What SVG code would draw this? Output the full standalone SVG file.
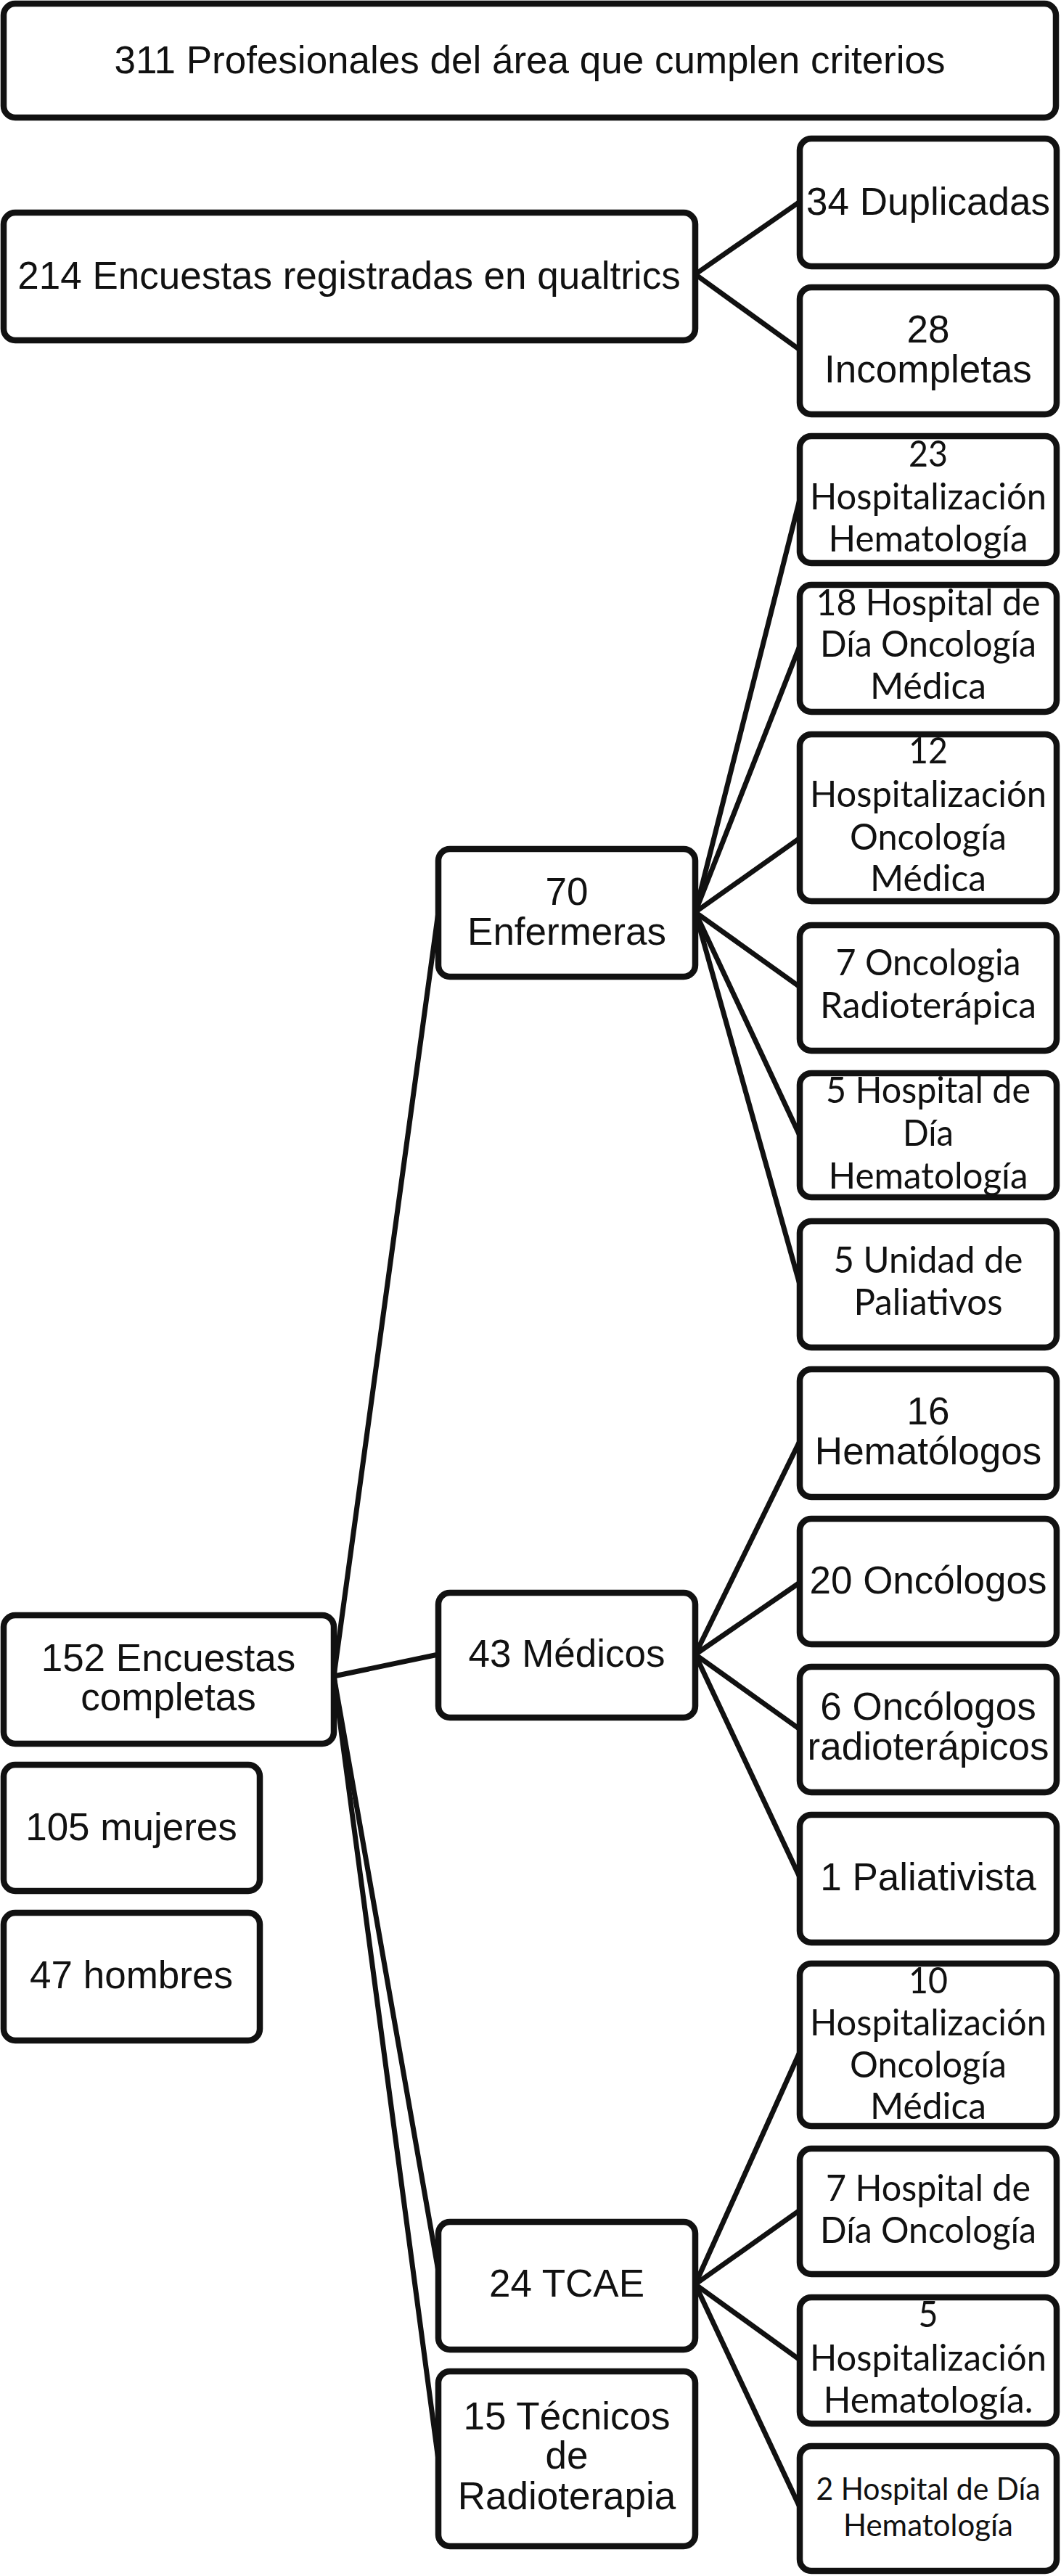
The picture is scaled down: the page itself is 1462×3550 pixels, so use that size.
<svg xmlns="http://www.w3.org/2000/svg" width="1462" height="3550" viewBox="0 0 1462 3550">
<style>
.box{fill:#fff;stroke:#111;stroke-width:8.5}
.edge{stroke:#111;stroke-width:7;fill:none;stroke-linecap:round}
.a{font-family:"Liberation Sans",Arial,sans-serif;font-size:53px;fill:#111;text-anchor:middle}
.c{font-family:Lato,"Noto Sans",sans-serif;font-size:50px;fill:#111;text-anchor:middle}
.s{font-family:Lato,"Noto Sans",sans-serif;font-size:43px;fill:#111;text-anchor:middle}
</style>
<rect width="1462" height="3550" fill="#fff"/>
<g id="connectors">
<line class="edge" x1="958" y1="378" x2="1102" y2="278"/>
<line class="edge" x1="958" y1="378" x2="1102" y2="482"/>
<line class="edge" x1="958" y1="1257" x2="1102" y2="688"/>
<line class="edge" x1="958" y1="1257" x2="1102" y2="890"/>
<line class="edge" x1="958" y1="1257" x2="1102" y2="1155"/>
<line class="edge" x1="958" y1="1257" x2="1102" y2="1360"/>
<line class="edge" x1="958" y1="1257" x2="1102" y2="1565"/>
<line class="edge" x1="958" y1="1257" x2="1102" y2="1770"/>
<line class="edge" x1="958" y1="2280" x2="1102" y2="1986"/>
<line class="edge" x1="958" y1="2280" x2="1102" y2="2181"/>
<line class="edge" x1="958" y1="2280" x2="1102" y2="2383"/>
<line class="edge" x1="958" y1="2280" x2="1102" y2="2587"/>
<line class="edge" x1="958" y1="3148" x2="1102" y2="2828"/>
<line class="edge" x1="958" y1="3148" x2="1102" y2="3046"/>
<line class="edge" x1="958" y1="3148" x2="1102" y2="3252"/>
<line class="edge" x1="958" y1="3148" x2="1102" y2="3455"/>
<line class="edge" x1="460" y1="2310" x2="604" y2="1257"/>
<line class="edge" x1="460" y1="2310" x2="604" y2="2280"/>
<line class="edge" x1="460" y1="2310" x2="604" y2="3130"/>
<line class="edge" x1="460" y1="2310" x2="604" y2="3390"/>
</g>
<g id="n-total"><rect class="box" x="5" y="5" width="1450" height="157" rx="16"/><text class="a" x="730" y="101">311 Profesionales del área que cumplen criterios</text></g>
<g id="n-registradas"><rect class="box" x="5" y="293" width="953" height="176" rx="16"/><text class="a" x="481" y="398">214 Encuestas registradas en qualtrics</text></g>
<g id="n-duplicadas"><rect class="box" x="1102" y="191" width="354" height="176" rx="16"/><text class="a" x="1279" y="296">34 Duplicadas</text></g>
<g id="n-incompletas"><rect class="box" x="1102" y="396" width="354" height="175" rx="16"/><text class="a" x="1279" y="472">28</text><text class="a" x="1279" y="527">Incompletas</text></g>
<g id="n-enf-hh"><rect class="box" x="1102" y="601" width="354" height="175" rx="16"/><text class="c" x="1279" y="643" textLength="54" lengthAdjust="spacingAndGlyphs">23</text><text class="c" x="1279" y="702" textLength="326" lengthAdjust="spacingAndGlyphs">Hospitalización</text><text class="c" x="1279" y="760" textLength="275" lengthAdjust="spacingAndGlyphs">Hematología</text></g>
<g id="n-enf-hdo"><rect class="box" x="1102" y="806" width="354" height="175" rx="16"/><text class="c" x="1279" y="848" textLength="309" lengthAdjust="spacingAndGlyphs">18 Hospital de</text><text class="c" x="1279" y="905" textLength="298" lengthAdjust="spacingAndGlyphs">Día Oncología</text><text class="c" x="1279" y="963" textLength="160" lengthAdjust="spacingAndGlyphs">Médica</text></g>
<g id="n-enf-hom"><rect class="box" x="1102" y="1012" width="354" height="230" rx="16"/><text class="c" x="1279" y="1052" textLength="54" lengthAdjust="spacingAndGlyphs">12</text><text class="c" x="1279" y="1112" textLength="326" lengthAdjust="spacingAndGlyphs">Hospitalización</text><text class="c" x="1279" y="1171" textLength="216" lengthAdjust="spacingAndGlyphs">Oncología</text><text class="c" x="1279" y="1228" textLength="160" lengthAdjust="spacingAndGlyphs">Médica</text></g>
<g id="n-enf-or"><rect class="box" x="1102" y="1275" width="354" height="173" rx="16"/><text class="c" x="1279" y="1344" textLength="255" lengthAdjust="spacingAndGlyphs">7 Oncologia</text><text class="c" x="1279" y="1403" textLength="298" lengthAdjust="spacingAndGlyphs">Radioterápica</text></g>
<g id="n-enf-hdh"><rect class="box" x="1102" y="1479" width="354" height="171" rx="16"/><text class="c" x="1279" y="1520" textLength="282" lengthAdjust="spacingAndGlyphs">5 Hospital de</text><text class="c" x="1279" y="1579" textLength="70" lengthAdjust="spacingAndGlyphs">Día</text><text class="c" x="1279" y="1638" textLength="275" lengthAdjust="spacingAndGlyphs">Hematología</text></g>
<g id="n-enf-up"><rect class="box" x="1102" y="1683" width="354" height="174" rx="16"/><text class="c" x="1279" y="1754" textLength="261" lengthAdjust="spacingAndGlyphs">5 Unidad de</text><text class="c" x="1279" y="1812" textLength="205" lengthAdjust="spacingAndGlyphs">Paliativos</text></g>
<g id="n-med-hem"><rect class="box" x="1102" y="1887" width="354" height="176" rx="16"/><text class="a" x="1279" y="1963">16</text><text class="a" x="1279" y="2018">Hematólogos</text></g>
<g id="n-med-onc"><rect class="box" x="1102" y="2093" width="354" height="173" rx="16"/><text class="a" x="1279" y="2196">20 Oncólogos</text></g>
<g id="n-med-rad"><rect class="box" x="1102" y="2297" width="354" height="173" rx="16"/><text class="a" x="1279" y="2370">6 Oncólogos</text><text class="a" x="1279" y="2425">radioterápicos</text></g>
<g id="n-med-pal"><rect class="box" x="1102" y="2501" width="354" height="176" rx="16"/><text class="a" x="1279" y="2605">1 Paliativista</text></g>
<g id="n-tcae-hom"><rect class="box" x="1102" y="2706" width="354" height="224" rx="16"/><text class="c" x="1279" y="2747" textLength="54" lengthAdjust="spacingAndGlyphs">10</text><text class="c" x="1279" y="2805" textLength="326" lengthAdjust="spacingAndGlyphs">Hospitalización</text><text class="c" x="1279" y="2863" textLength="216" lengthAdjust="spacingAndGlyphs">Oncología</text><text class="c" x="1279" y="2920" textLength="160" lengthAdjust="spacingAndGlyphs">Médica</text></g>
<g id="n-tcae-hdo"><rect class="box" x="1102" y="2961" width="354" height="173" rx="16"/><text class="c" x="1279" y="3033" textLength="282" lengthAdjust="spacingAndGlyphs">7 Hospital de</text><text class="c" x="1279" y="3091" textLength="298" lengthAdjust="spacingAndGlyphs">Día Oncología</text></g>
<g id="n-tcae-hh"><rect class="box" x="1102" y="3166" width="354" height="174" rx="16"/><text class="c" x="1279" y="3207" textLength="27" lengthAdjust="spacingAndGlyphs">5</text><text class="c" x="1279" y="3267" textLength="326" lengthAdjust="spacingAndGlyphs">Hospitalización</text><text class="c" x="1279" y="3325" textLength="289" lengthAdjust="spacingAndGlyphs">Hematología.</text></g>
<g id="n-tcae-hdh"><rect class="box" x="1102" y="3371" width="354" height="172" rx="16"/><text class="s" x="1279" y="3445" textLength="309" lengthAdjust="spacingAndGlyphs">2 Hospital de Día</text><text class="s" x="1279" y="3495" textLength="234" lengthAdjust="spacingAndGlyphs">Hematología</text></g>
<g id="n-enfermeras"><rect class="box" x="604" y="1170" width="354" height="176" rx="16"/><text class="a" x="781" y="1247">70</text><text class="a" x="781" y="1302">Enfermeras</text></g>
<g id="n-medicos"><rect class="box" x="604" y="2195" width="354" height="172" rx="16"/><text class="a" x="781" y="2297">43 Médicos</text></g>
<g id="n-tcae"><rect class="box" x="604" y="3062" width="354" height="176" rx="16"/><text class="a" x="781" y="3165">24 TCAE</text></g>
<g id="n-tecnicos"><rect class="box" x="604" y="3268" width="354" height="241" rx="16"/><text class="a" x="781" y="3348">15 Técnicos</text><text class="a" x="781" y="3402">de</text><text class="a" x="781" y="3458">Radioterapia</text></g>
<g id="n-completas"><rect class="box" x="5" y="2226" width="455" height="177" rx="16"/><text class="a" x="232" y="2303">152 Encuestas</text><text class="a" x="232" y="2357">completas</text></g>
<g id="n-mujeres"><rect class="box" x="5" y="2432" width="353" height="174" rx="16"/><text class="a" x="181" y="2536">105 mujeres</text></g>
<g id="n-hombres"><rect class="box" x="5" y="2636" width="353" height="176" rx="16"/><text class="a" x="181" y="2740">47 hombres</text></g>
</svg>
